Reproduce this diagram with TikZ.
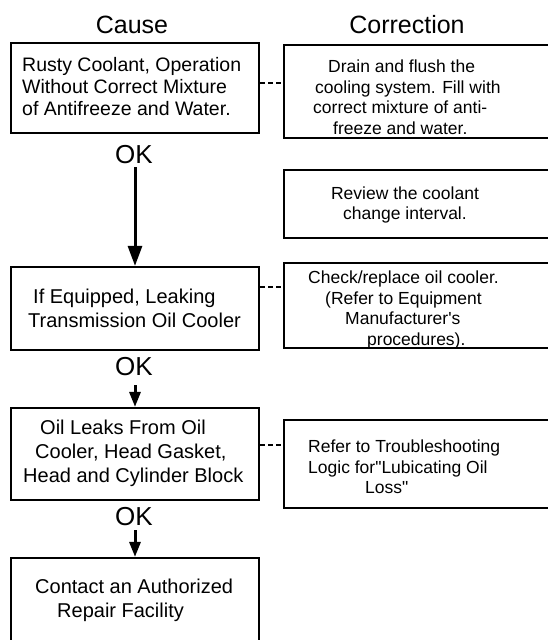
\documentclass[tikz,border=0pt]{standalone}
\usepackage{fontspec}
\setmainfont{Liberation Sans}[Ligatures=TeXOff]
\usetikzlibrary{arrows.meta}
\begin{document}
\begin{tikzpicture}[x=1pt,y=-1pt,
  causebox/.style={draw, line width=2.2pt, minimum width=248pt, inner sep=0pt},
  corrbox/.style={draw, line width=1.7pt, minimum width=272pt, inner sep=0pt},
  causetext/.style={anchor=west, align=left, inner sep=0pt, font=\fontsize{20}{24}\selectfont},
  corrtext/.style={anchor=west, align=left, inner sep=0pt, font=\fontsize{17.5}{20.5}\selectfont},
  title/.style={anchor=base, inner sep=0pt, font=\fontsize{25}{30}\selectfont},
  oklabel/.style={anchor=base, inner sep=0pt, font=\fontsize{26}{30}\selectfont},
  flow/.style={line width=3pt, -{Triangle[length=20pt,width=14pt]}},
  shortflow/.style={line width=3pt, -{Triangle[length=15pt,width=11pt]}},
  link/.style={line width=1.5pt, dash pattern=on 5pt off 3pt}]
\useasboundingbox (0,0) rectangle (548,640);

% titles
\node[title] (tcause) at (132,33) {Cause};
\node[title] (tcorr) at (407,33) {Correction};

% cause boxes
\node[causebox, minimum height=90pt] (c1) at (135,88) {};
\node[causebox, minimum height=83pt] (c2) at (135,308.5) {};
\node[causebox, minimum height=92pt] (c3) at (135,454) {};
\node[causebox, minimum height=94pt] (c4) at (135,605) {};

% correction boxes
\node[corrbox, minimum height=93pt] (k1) at (420,91.5) {};
\node[corrbox, minimum height=68pt] (kr) at (420,204) {};
\node[corrbox, minimum height=85pt] (k2) at (420,305.5) {};
\node[corrbox, minimum height=88pt] (k3) at (420,464) {};

% cause texts
\node[causetext, font=\fontsize{19.5}{22}\selectfont] (c1t) at (22,86.5)
  {Rusty Coolant, Operation\\Without Correct Mixture\\of Antifreeze and Water.};
\node[causetext] (c2t) at (28,308)
  {\hspace*{5pt}If Equipped, Leaking\\Transmission Oil Cooler};
\node[causetext] (c3t) at (23,453)
  {\hspace*{17pt}Oil Leaks From Oil\\\hspace*{12pt}Cooler, Head Gasket,\\Head and Cylinder Block};
\node[causetext] (c4t) at (35,600)
  {Contact an Authorized\\\hspace*{22pt}Repair Facility};

% correction texts
\node[corrtext] (k1t) at (313,97)
  {\hspace*{15pt}Drain and flush the\\\hspace*{2pt}cooling system. Fill with\\correct mixture of anti-\\\hspace*{20pt}freeze and water.};
\node[corrtext, anchor=center, align=center] (krt) at (405,205)
  {Review the coolant\\change interval.};
\node[corrtext] (k2t) at (308,310)
  {Check/replace oil cooler.\\\hspace*{17pt}(Refer to Equipment\\\hspace*{37pt}Manufacturer's\\\hspace*{59pt}procedures).};
\node[corrtext] (k3t) at (308,467)
  {Refer to Troubleshooting\\Logic for"Lubicating Oil\\\hspace*{57pt}Loss"};

% OK labels
\node[oklabel] (ok1) at (134,163) {OK};
\node[oklabel] (ok2) at (134,375) {OK};
\node[oklabel] (ok3) at (134,525) {OK};

% arrows
\coordinate (a1) at (135,167);
\coordinate (a2) at (135,385);
\coordinate (a3) at (135,530);
\draw[flow] (a1) -- (a1 |- c2.north);
\draw[shortflow] (a2) -- (a2 |- c3.north);
\draw[shortflow] (a3) -- (a3 |- c4.north);

% dashed links
\draw[link] ([yshift=5pt]c1.east) -- ([yshift=5pt]c1.east -| k1.west);
\draw[link] ([yshift=21.5pt]c2.east) -- ([yshift=21.5pt]c2.east -| k2.west);
\draw[link] ([yshift=9pt]c3.east) -- ([yshift=9pt]c3.east -| k3.west);
\end{tikzpicture}
\end{document}
